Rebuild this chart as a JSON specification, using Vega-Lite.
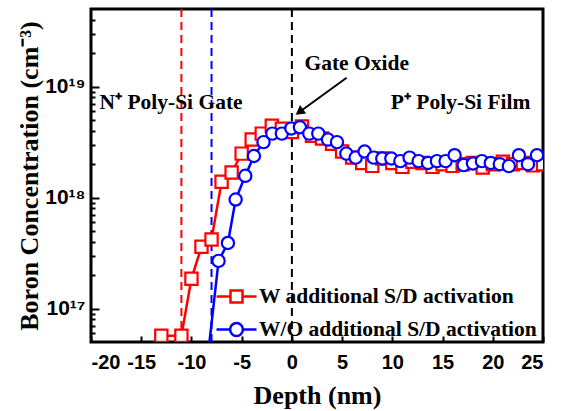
{
  "$schema": "https://vega.github.io/schema/vega-lite/v6.json",
  "width": 452,
  "height": 333,
  "autosize": {"type": "none"},
  "padding": {"left": 91, "top": 9, "right": 22, "bottom": 69},
  "background": "white",
  "config": {
    "view": {"stroke": "black", "strokeWidth": 3},
    "axis": {
      "domain": false, "grid": false, "tickColor": "black", "tickWidth": 2,
      "labelColor": "black", "titleColor": "black",
      "labelFont": "Liberation Sans", "labelFontWeight": "bold", "labelFontSize": 20,
      "titleFont": "Liberation Serif", "titleFontWeight": "bold", "titleFontSize": 26
    }
  },
  "resolve": {"scale": {"shape": "independent"}, "legend": {"color": "independent", "shape": "independent"}},
  "datasets": {
    "profiles": [
      {"depth": -13, "conc": 5.7e16, "series": "W additional S/D activation"},
      {"depth": -11, "conc": 5.7e16, "series": "W additional S/D activation"},
      {"depth": -10, "conc": 1.86e17, "series": "W additional S/D activation"},
      {"depth": -9, "conc": 3.6e17, "series": "W additional S/D activation"},
      {"depth": -8, "conc": 4.2e17, "series": "W additional S/D activation"},
      {"depth": -7, "conc": 1.39e18, "series": "W additional S/D activation"},
      {"depth": -6, "conc": 1.68e18, "series": "W additional S/D activation"},
      {"depth": -5, "conc": 2.49e18, "series": "W additional S/D activation"},
      {"depth": -4, "conc": 3.33e18, "series": "W additional S/D activation"},
      {"depth": -3, "conc": 3.77e18, "series": "W additional S/D activation"},
      {"depth": -2, "conc": 4.44e18, "series": "W additional S/D activation"},
      {"depth": -1, "conc": 4.17e18, "series": "W additional S/D activation"},
      {"depth": 0, "conc": 3.9e18, "series": "W additional S/D activation"},
      {"depth": 1, "conc": 4.37e18, "series": "W additional S/D activation"},
      {"depth": 2, "conc": 3.6e18, "series": "W additional S/D activation"},
      {"depth": 3, "conc": 3.4e18, "series": "W additional S/D activation"},
      {"depth": 4, "conc": 3.06e18, "series": "W additional S/D activation"},
      {"depth": 5, "conc": 2.6e18, "series": "W additional S/D activation"},
      {"depth": 6, "conc": 2.3e18, "series": "W additional S/D activation"},
      {"depth": 7, "conc": 2.05e18, "series": "W additional S/D activation"},
      {"depth": 8, "conc": 1.93e18, "series": "W additional S/D activation"},
      {"depth": 9, "conc": 2.25e18, "series": "W additional S/D activation"},
      {"depth": 10, "conc": 2.05e18, "series": "W additional S/D activation"},
      {"depth": 11, "conc": 1.89e18, "series": "W additional S/D activation"},
      {"depth": 12, "conc": 2.1e18, "series": "W additional S/D activation"},
      {"depth": 13, "conc": 2.05e18, "series": "W additional S/D activation"},
      {"depth": 14, "conc": 1.89e18, "series": "W additional S/D activation"},
      {"depth": 15, "conc": 2.0e18, "series": "W additional S/D activation"},
      {"depth": 16, "conc": 1.93e18, "series": "W additional S/D activation"},
      {"depth": 17, "conc": 2.0e18, "series": "W additional S/D activation"},
      {"depth": 18, "conc": 2.05e18, "series": "W additional S/D activation"},
      {"depth": 19, "conc": 1.87e18, "series": "W additional S/D activation"},
      {"depth": 20, "conc": 2.0e18, "series": "W additional S/D activation"},
      {"depth": 21, "conc": 2.1e18, "series": "W additional S/D activation"},
      {"depth": 22, "conc": 2.0e18, "series": "W additional S/D activation"},
      {"depth": 23, "conc": 2.05e18, "series": "W additional S/D activation"},
      {"depth": 24, "conc": 1.95e18, "series": "W additional S/D activation"},
      {"depth": 25, "conc": 2.0e18, "series": "W additional S/D activation"},
      {"depth": -8.3, "conc": 4.2e16, "series": "W/O additional S/D activation"},
      {"depth": -7.3, "conc": 2.69e17, "series": "W/O additional S/D activation"},
      {"depth": -6.37, "conc": 3.9e17, "series": "W/O additional S/D activation"},
      {"depth": -5.6, "conc": 9.6e17, "series": "W/O additional S/D activation"},
      {"depth": -4.64, "conc": 1.57e18, "series": "W/O additional S/D activation"},
      {"depth": -3.78, "conc": 2.37e18, "series": "W/O additional S/D activation"},
      {"depth": -2.82, "conc": 3.16e18, "series": "W/O additional S/D activation"},
      {"depth": -1.95, "conc": 3.77e18, "series": "W/O additional S/D activation"},
      {"depth": -1.0, "conc": 3.77e18, "series": "W/O additional S/D activation"},
      {"depth": -0.05, "conc": 4.2e18, "series": "W/O additional S/D activation"},
      {"depth": 0.8, "conc": 4.3e18, "series": "W/O additional S/D activation"},
      {"depth": 1.73, "conc": 3.77e18, "series": "W/O additional S/D activation"},
      {"depth": 2.63, "conc": 3.77e18, "series": "W/O additional S/D activation"},
      {"depth": 3.59, "conc": 3.33e18, "series": "W/O additional S/D activation"},
      {"depth": 4.49, "conc": 3.16e18, "series": "W/O additional S/D activation"},
      {"depth": 5.42, "conc": 2.49e18, "series": "W/O additional S/D activation"},
      {"depth": 6.35, "conc": 2.29e18, "series": "W/O additional S/D activation"},
      {"depth": 7.24, "conc": 2.6e18, "series": "W/O additional S/D activation"},
      {"depth": 8.14, "conc": 2.29e18, "series": "W/O additional S/D activation"},
      {"depth": 9.0, "conc": 2.25e18, "series": "W/O additional S/D activation"},
      {"depth": 9.9, "conc": 2.25e18, "series": "W/O additional S/D activation"},
      {"depth": 10.8, "conc": 2.13e18, "series": "W/O additional S/D activation"},
      {"depth": 11.72, "conc": 2.29e18, "series": "W/O additional S/D activation"},
      {"depth": 12.62, "conc": 2.13e18, "series": "W/O additional S/D activation"},
      {"depth": 13.55, "conc": 2.05e18, "series": "W/O additional S/D activation"},
      {"depth": 14.44, "conc": 2.13e18, "series": "W/O additional S/D activation"},
      {"depth": 15.3, "conc": 2.13e18, "series": "W/O additional S/D activation"},
      {"depth": 16.2, "conc": 2.41e18, "series": "W/O additional S/D activation"},
      {"depth": 17.1, "conc": 1.96e18, "series": "W/O additional S/D activation"},
      {"depth": 18.03, "conc": 2.03e18, "series": "W/O additional S/D activation"},
      {"depth": 18.92, "conc": 2.13e18, "series": "W/O additional S/D activation"},
      {"depth": 19.8, "conc": 2.05e18, "series": "W/O additional S/D activation"},
      {"depth": 20.7, "conc": 2.0e18, "series": "W/O additional S/D activation"},
      {"depth": 21.6, "conc": 1.92e18, "series": "W/O additional S/D activation"},
      {"depth": 22.6, "conc": 2.41e18, "series": "W/O additional S/D activation"},
      {"depth": 23.5, "conc": 2.0e18, "series": "W/O additional S/D activation"},
      {"depth": 24.4, "conc": 2.41e18, "series": "W/O additional S/D activation"}
    ],
    "boundaries": [
      {"depth": -11, "series": "W additional S/D activation"},
      {"depth": -8, "series": "W/O additional S/D activation"}
    ],
    "oxide": [{"depth": 0}],
    "labels": [
      {"depth": 6.45, "conc": 1.61e19, "label": "Gate Oxide"},
      {"depth": -12.03, "conc": 7.05e18, "label": "N⁺ Poly-Si Gate"},
      {"depth": 16.8, "conc": 7.05e18, "label": "P⁺ Poly-Si Film"}
    ],
    "arrow": [{"depth": 5.45, "conc": 1.2e19, "depth2": 0.75, "conc2": 5.9e18}]
  },
  "layer": [
    {
      "data": {"name": "boundaries"},
      "mark": {"type": "rule", "strokeDash": [8, 5], "strokeWidth": 2},
      "encoding": {
        "x": {"field": "depth", "type": "quantitative",
          "scale": {"domain": [-20, 25], "nice": false, "zero": false},
          "axis": {"values": [-20, -15, -10, -5, 0, 5, 10, 15, 20, 25], "tickSize": -6, "labelPadding": 16, "title": "Depth (nm)", "titlePadding": 10,
            "labelExpr": "replace(datum.label, '−', '-')"}},
        "color": {"field": "series", "type": "nominal",
          "scale": {"domain": ["W additional S/D activation", "W/O additional S/D activation"], "range": ["#ff0000", "#0000ff"]},
          "legend": null}
      }
    },
    {
      "data": {"name": "oxide"},
      "mark": {"type": "rule", "strokeDash": [8, 5], "strokeWidth": 2, "color": "black"},
      "encoding": {"x": {"field": "depth", "type": "quantitative"}}
    },
    {
      "data": {"name": "profiles"},
      "mark": {"type": "line", "strokeWidth": 2.5, "clip": true},
      "encoding": {
        "x": {"field": "depth", "type": "quantitative"},
        "y": {"field": "conc", "type": "quantitative",
          "scale": {"type": "log", "domain": [5e16, 5e19], "nice": false},
          "axis": {
            "values": [6e16, 7e16, 8e16, 9e16, 1e17, 2e17, 3e17, 4e17, 5e17, 6e17, 7e17, 8e17, 9e17, 1e18, 2e18, 3e18, 4e18, 5e18, 6e18, 7e18, 8e18, 9e18, 1e19, 2e19, 3e19, 4e19],
            "labelExpr": "datum.value == 1e17 ? '10¹⁷' : datum.value == 1e18 ? '10¹⁸' : datum.value == 1e19 ? '10¹⁹' : ''",
            "labelFontSize": 21,
            "tickSize": {"condition": {"test": "datum.value == 1e17 || datum.value == 1e18 || datum.value == 1e19", "value": -8}, "value": -4},
            "labelPadding": 14,
            "title": "Boron Concentration (cm⁻³)",
            "titlePadding": 2
          }},
        "color": {"field": "series", "type": "nominal", "legend": null},
        "detail": {"field": "series"}
      }
    },
    {
      "data": {"name": "profiles"},
      "mark": {"type": "point", "filled": false, "fill": "white", "fillOpacity": 1, "size": 150, "strokeWidth": 2.2, "opacity": 1, "clip": true},
      "encoding": {
        "x": {"field": "depth", "type": "quantitative"},
        "y": {"field": "conc", "type": "quantitative"},
        "color": {"field": "series", "type": "nominal", "legend": null},
        "shape": {"field": "series", "type": "nominal", "scale": {"domain": ["W additional S/D activation", "W/O additional S/D activation"], "range": ["square", "circle"]}, "legend": null}
      }
    },
    {
      "data": {"name": "boundaries"},
      "mark": {"type": "point", "filled": false, "fill": "white", "opacity": 0},
      "encoding": {
        "x": {"field": "depth", "type": "quantitative"},
        "color": {"field": "series", "type": "nominal",
          "scale": {"domain": ["W additional S/D activation", "W/O additional S/D activation"], "range": ["#ff0000", "#0000ff"]},
          "legend": {
            "title": null, "orient": "none", "legendX": 124, "legendY": 266, "direction": "vertical",
            "labelFont": "Liberation Serif", "labelFontWeight": "bold", "labelFontSize": 21.5, "labelColor": "black",
            "labelOffset": 1, "labelLimit": 400, "rowPadding": -15, "symbolSize": 1600, "symbolStrokeWidth": 2.5, "symbolFillColor": "white", "symbolOpacity": 1
          }},
        "shape": {"field": "series", "type": "nominal",
          "scale": {"domain": ["W additional S/D activation", "W/O additional S/D activation"],
            "range": ["M-1,0H-0.3M0.3,0H1M-0.3,-0.3H0.3V0.3H-0.3Z", "M-1,0H-0.32M0.32,0H1M-0.32,0A0.32,0.32 0 1,1 0.32,0A0.32,0.32 0 1,1 -0.32,0Z"]},
          "legend": {
            "title": null, "orient": "none", "legendX": 124, "legendY": 266, "direction": "vertical",
            "labelFont": "Liberation Serif", "labelFontWeight": "bold", "labelFontSize": 21.5, "labelColor": "black",
            "labelOffset": 1, "labelLimit": 400, "rowPadding": -15, "symbolSize": 1600, "symbolStrokeWidth": 2.5, "symbolFillColor": "white", "symbolOpacity": 1
          }}
      }
    },
    {
      "data": {"name": "arrow"},
      "mark": {"type": "rule", "color": "black", "strokeWidth": 2},
      "encoding": {
        "x": {"field": "depth", "type": "quantitative"},
        "y": {"field": "conc", "type": "quantitative"},
        "x2": {"field": "depth2"},
        "y2": {"field": "conc2"}
      }
    },
    {
      "data": {"name": "arrow"},
      "mark": {"type": "point", "shape": "triangle-up", "angle": 234, "filled": true, "color": "black", "size": 110, "opacity": 1},
      "encoding": {
        "x": {"field": "depth2", "type": "quantitative"},
        "y": {"field": "conc2", "type": "quantitative"}
      }
    },
    {
      "data": {"name": "labels"},
      "mark": {"type": "text", "font": "Liberation Serif", "fontWeight": "bold", "fontSize": 21.5, "color": "black", "align": "center", "baseline": "middle"},
      "encoding": {
        "x": {"field": "depth", "type": "quantitative"},
        "y": {"field": "conc", "type": "quantitative"},
        "text": {"field": "label"}
      }
    }
  ]
}
